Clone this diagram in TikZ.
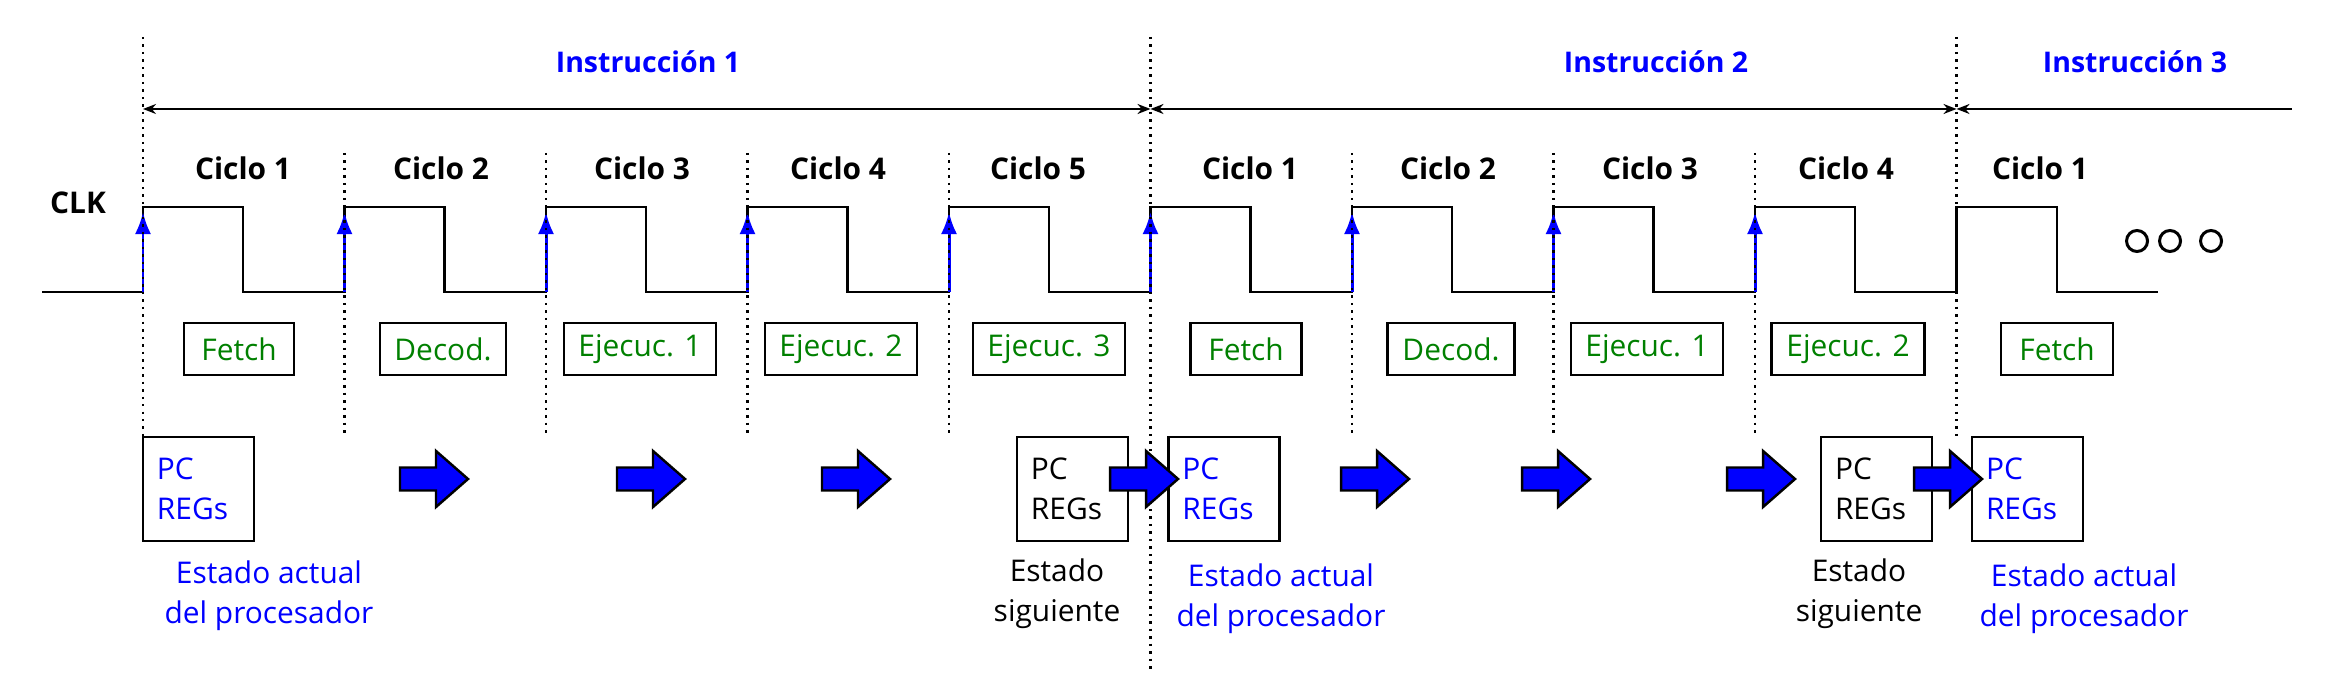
\documentclass[tikz,border=0pt]{standalone}
\usepackage{fontspec}
\setmainfont{Open Sans}
\usetikzlibrary{arrows.meta}
\definecolor{dgreen}{RGB}{0,128,0}
\tikzset{
  barrow/.pic={\draw[fill=blue, line width=0.7pt, line join=miter]
    (0,-11.5) -- (36,-11.5) -- (36,-28) -- (68,0) -- (36,28) -- (36,11.5) -- (0,11.5) -- cycle;}
}
\begin{document}
\begin{tikzpicture}[x=0.01cm,y=-0.01cm,
  wave/.style={line width=0.77pt, line join=miter},
  rise/.style={blue, line width=0.85pt, -{Latex[length=0.22cm,width=0.16cm]}},
  dots/.style={line width=0.7pt, dash pattern=on 0.7pt off 1.43pt},
  span/.style={line width=0.57pt, >={Stealth[length=0.13cm,width=0.1cm]}},
  phase/.style={draw, line width=0.77pt, text=dgreen, font=\fontsize{8.5}{10}\selectfont, minimum height=0.52cm, inner sep=0pt},
  regs/.style={draw, line width=0.77pt, minimum height=1.04cm, text width=0.83cm, inner xsep=0.14cm, inner ysep=0pt, align=left, font=\fontsize{8.5}{11.4}\selectfont},
  cyc/.style={font=\bfseries\fontsize{8.5}{10}\selectfont, anchor=base},
  instr/.style={text=blue, font=\bfseries\fontsize{8.1}{10}\selectfont, anchor=base},
  lbl/.style={align=center, font=\fontsize{8.5}{11.4}\selectfont},
  dotc/.style={circle, draw, line width=0.85pt, minimum size=0.21cm, inner sep=0pt}
]
\useasboundingbox (0,0) rectangle (2337,674);

% labels on top
\node[instr] (in1) at (648,73) {Instrucción 1};
\node[instr] (in2) at (1656,73) {Instrucción 2};
\node[instr] (in3) at (2135,73) {Instrucción 3};

% instruction span arrows
\coordinate (i0) at (143,109);
\coordinate (i1) at (1150.5,109);
\coordinate (i2) at (1956.5,109);
\coordinate (i3) at (2292,109);
\draw[span,<->] (i0) -- (i1);
\draw[span,<->] (i1) -- (i2);
\draw[span,<-] (i2) -- (i3);

% cycle labels
\node[font=\bfseries\fontsize{8.5}{10}\selectfont, anchor=base] (clk) at (78,214) {CLK};
\node[cyc] (cy1) at (243,180) {Ciclo 1};
\node[cyc] (cy2) at (441,180) {Ciclo 2};
\node[cyc] (cy3) at (642,180) {Ciclo 3};
\node[cyc] (cy4) at (838,180) {Ciclo 4};
\node[cyc] (cy5) at (1038,180) {Ciclo 5};
\node[cyc] (cy6) at (1250,180) {Ciclo 1};
\node[cyc] (cy7) at (1448,180) {Ciclo 2};
\node[cyc] (cy8) at (1650,180) {Ciclo 3};
\node[cyc] (cy9) at (1846,180) {Ciclo 4};
\node[cyc] (cy10) at (2040,180) {Ciclo 1};

% clock waveform
\draw[wave] (42,292) -- (143,292) -- (143,207) -- (243,207) -- (243,292)
  -- (344.5,292) -- (344.5,207) -- (444.5,207) -- (444.5,292)
  -- (546,292) -- (546,207) -- (646,207) -- (646,292)
  -- (747.5,292) -- (747.5,207) -- (847.5,207) -- (847.5,292)
  -- (949,292) -- (949,207) -- (1049,207) -- (1049,292)
  -- (1150.5,292) -- (1150.5,207) -- (1250.5,207) -- (1250.5,292)
  -- (1352,292) -- (1352,207) -- (1452,207) -- (1452,292)
  -- (1553.5,292) -- (1553.5,207) -- (1653.5,207) -- (1653.5,292)
  -- (1755,292) -- (1755,207) -- (1855,207) -- (1855,292)
  -- (1956.5,292) -- (1956.5,207) -- (2057,207) -- (2057,292) -- (2158,292);

% rising edges
\foreach \x in {143,344.5,546,747.5,949,1150.5,1352,1553.5,1755}
  \draw[rise] (\x,292) -- (\x,212);

% ellipsis
\node[dotc] (o1) at (2137,241) {};
\node[dotc] (o2) at (2170,241) {};
\node[dotc] (o3) at (2211,241) {};

% phase boxes
\node[phase, minimum width=1.10cm] (f1) at (239,349) {Fetch};
\node[phase, minimum width=1.26cm] (d1) at (443,349) {Decod.};
\node[phase, minimum width=1.52cm] (e1) at (640,349) {Ejecuc. 1};
\node[phase, minimum width=1.52cm] (e2) at (841,349) {Ejecuc. 2};
\node[phase, minimum width=1.52cm] (e3) at (1049,349) {Ejecuc. 3};
\node[phase, minimum width=1.11cm] (f2) at (1246,349) {Fetch};
\node[phase, minimum width=1.27cm] (d2) at (1451,349) {Decod.};
\node[phase, minimum width=1.52cm] (e4) at (1647,349) {Ejecuc. 1};
\node[phase, minimum width=1.53cm] (e5) at (1848,349) {Ejecuc. 2};
\node[phase, minimum width=1.12cm] (f3) at (2057,349) {Fetch};

% state boxes
\node[regs, text=blue] (r1) at (198.5,489) {PC\\REGs};
\node[regs] (r2) at (1072.5,489) {PC\\REGs};
\node[regs, text=blue] (r3) at (1224,489) {PC\\REGs};
\node[regs] (r4) at (1876.5,489) {PC\\REGs};
\node[regs, text=blue] (r5) at (2027.5,489) {PC\\REGs};

% state labels
\node[lbl, text=blue] (s1) at (269,596) {Estado actual\\del procesador};
\node[lbl] (s2) at (1057,594) {Estado\\siguiente};
\node[lbl, text=blue] (s3) at (1281,599) {Estado actual\\del procesador};
\node[lbl] (s4) at (1859,594) {Estado\\siguiente};
\node[lbl, text=blue] (s5) at (2084,599) {Estado actual\\del procesador};

% dotted separators
\foreach \x/\a/\b in {143/37/437, 1150.5/37/670, 1956.5/37/440,
  344.5/153/435, 546/153/435, 747.5/153/435, 949/153/435,
  1352/153/435, 1553.5/153/435, 1755/153/435}
  \draw[dots] (\x,\a) -- (\x,\b);

% block arrows
\foreach \x in {400,617,822,1110,1341,1522,1727,1914}
  \pic at (\x,479) {barrow};
\end{tikzpicture}
\end{document}
